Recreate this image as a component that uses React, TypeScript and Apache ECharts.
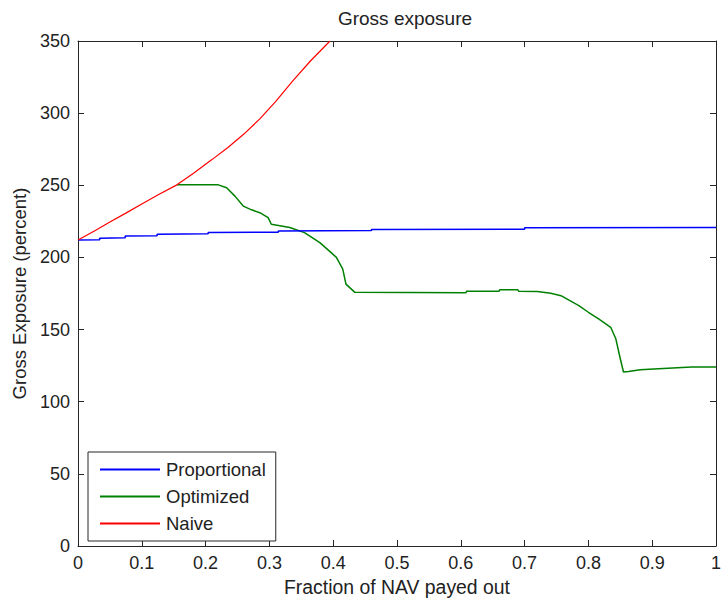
import React, { useEffect, useRef } from "react";
import * as echarts from "echarts";

const proportional: [number, number][] = [
  [0, 212.1], [0.034, 212.3], [0.034, 213.3], [0.074, 213.6], [0.074, 214.9],
  [0.124, 215.1], [0.124, 216.1], [0.204, 216.4], [0.204, 217.2], [0.314, 217.5],
  [0.314, 218.4], [0.46, 218.6], [0.46, 219.4], [0.7, 219.6], [0.7, 220.6], [1.0, 220.7],
];

const optimized: [number, number][] = [
  [0.155, 250.3], [0.22, 250.3], [0.233, 248.3], [0.246, 242.5], [0.259, 235.6],
  [0.272, 233.0], [0.285, 231.0], [0.298, 227.6], [0.303, 223.0], [0.332, 220.7],
  [0.355, 217.2], [0.379, 210.3], [0.395, 204.0], [0.405, 200.0], [0.415, 191.9],
  [0.42, 181.5], [0.434, 175.8], [0.608, 175.6], [0.609, 176.5], [0.66, 176.5],
  [0.661, 177.6], [0.689, 177.6], [0.691, 176.5], [0.72, 176.4], [0.741, 175.1],
  [0.757, 173.5], [0.785, 166.6], [0.8, 162.0], [0.816, 157.4], [0.835, 151.6],
  [0.843, 143.6], [0.85, 129.8], [0.855, 120.6], [0.863, 121.0], [0.881, 122.2],
  [0.91, 122.9], [0.962, 124.0], [1.0, 124.0],
];

const naive: [number, number][] = [
  [0, 212.1], [0.025, 218.2], [0.05, 224.5], [0.075, 230.7], [0.1, 237.0],
  [0.125, 243.3], [0.155, 250.3], [0.18, 258.0], [0.21, 267.8], [0.235, 276.2],
  [0.26, 285.5], [0.285, 296.0], [0.31, 308.2], [0.337, 322.6], [0.365, 336.5],
  [0.395, 350.0],
];

const xTicks = [0, 0.1, 0.2, 0.3, 0.4, 0.5, 0.6, 0.7, 0.8, 0.9, 1];
const yTicks = [0, 50, 100, 150, 200, 250, 300, 350];

const FONT = "'Liberation Sans', Arial, Helvetica, sans-serif";
const AXIS_COLOR = "#262626";

export default function App() {
  const ref = useRef<HTMLDivElement>(null);

  useEffect(() => {
    if (!ref.current) return;
    const chart = echarts.init(ref.current, undefined, { renderer: "svg" });
    const axisCommon = {
      axisLine: { show: true, onZero: false, lineStyle: { color: AXIS_COLOR, width: 1 } },
      axisTick: { show: true, inside: true, length: 6, lineStyle: { color: AXIS_COLOR } },
      splitLine: { show: false },
    };
    chart.setOption({
      animation: false,
      backgroundColor: "#ffffff",
      title: {
        text: "Gross exposure",
        left: 400,
        textAlign: "center",
        top: 4,
        textStyle: { fontFamily: FONT, fontSize: 19, fontWeight: "normal", color: "#222" },
      },
      grid: { left: 78, right: 6, top: 41, bottom: 53, containLabel: false },
      legend: {
        orient: "vertical",
        left: 88,
        top: 452,
        data: ["Proportional", "Optimized", "Naive"],
        icon: "rect",
        itemWidth: 60,
        itemHeight: 2,
        itemGap: 8,
        padding: [8, 10, 8, 12],
        borderColor: AXIS_COLOR,
        borderWidth: 1,
        backgroundColor: "#ffffff",
        textStyle: { fontFamily: FONT, fontSize: 18.5, color: "#222", padding: [0, 0, 0, 1] },
      },
      xAxis: [
        {
          type: "value",
          min: 0,
          max: 1,
          interval: 0.1,
          name: "Fraction of NAV payed out",
          nameLocation: "middle",
          nameGap: 31,
          nameTextStyle: { fontFamily: FONT, fontSize: 19.4, color: "#222" },
          axisLabel: {
            fontFamily: FONT,
            fontSize: 18,
            color: "#222",
            margin: 8,
            formatter: (v: number) => {
              const t = xTicks.find((x) => Math.abs(x - v) < 1e-9);
              return t === undefined ? "" : String(t);
            },
          },
          ...axisCommon,
        },
        {
          type: "value",
          position: "top",
          min: 0,
          max: 1,
          interval: 0.1,
          axisLabel: { show: false },
          ...axisCommon,
        },
      ],
      yAxis: [
        {
          type: "value",
          min: 0,
          max: 350,
          interval: 50,
          name: "Gross Exposure (percent)",
          nameLocation: "middle",
          nameGap: 48,
          nameTextStyle: { fontFamily: FONT, fontSize: 18.5, color: "#222" },
          axisLabel: {
            fontFamily: FONT,
            fontSize: 18,
            color: "#222",
            margin: 8,
            formatter: (v: number) => (yTicks.includes(v) ? String(v) : ""),
          },
          ...axisCommon,
        },
        {
          type: "value",
          position: "right",
          min: 0,
          max: 350,
          interval: 50,
          axisLabel: { show: false },
          ...axisCommon,
        },
      ],
      series: [
        {
          name: "Proportional",
          type: "line",
          data: proportional,
          symbol: "none",
          color: "#0000ff",
          lineStyle: { color: "#0000ff", width: 1.5 },
          z: 3,
        },
        {
          name: "Optimized",
          type: "line",
          data: optimized,
          symbol: "none",
          color: "#008000",
          lineStyle: { color: "#008000", width: 1.5 },
          z: 2,
        },
        {
          name: "Naive",
          type: "line",
          data: naive,
          symbol: "none",
          color: "#ff0000",
          lineStyle: { color: "#ff0000", width: 1.2 },
          z: 4,
        },
      ],
    });
    return () => chart.dispose();
  }, []);

  return <div ref={ref} style={{ width: 724, height: 601, position: "absolute", left: 0, top: 0 }} />;
}
